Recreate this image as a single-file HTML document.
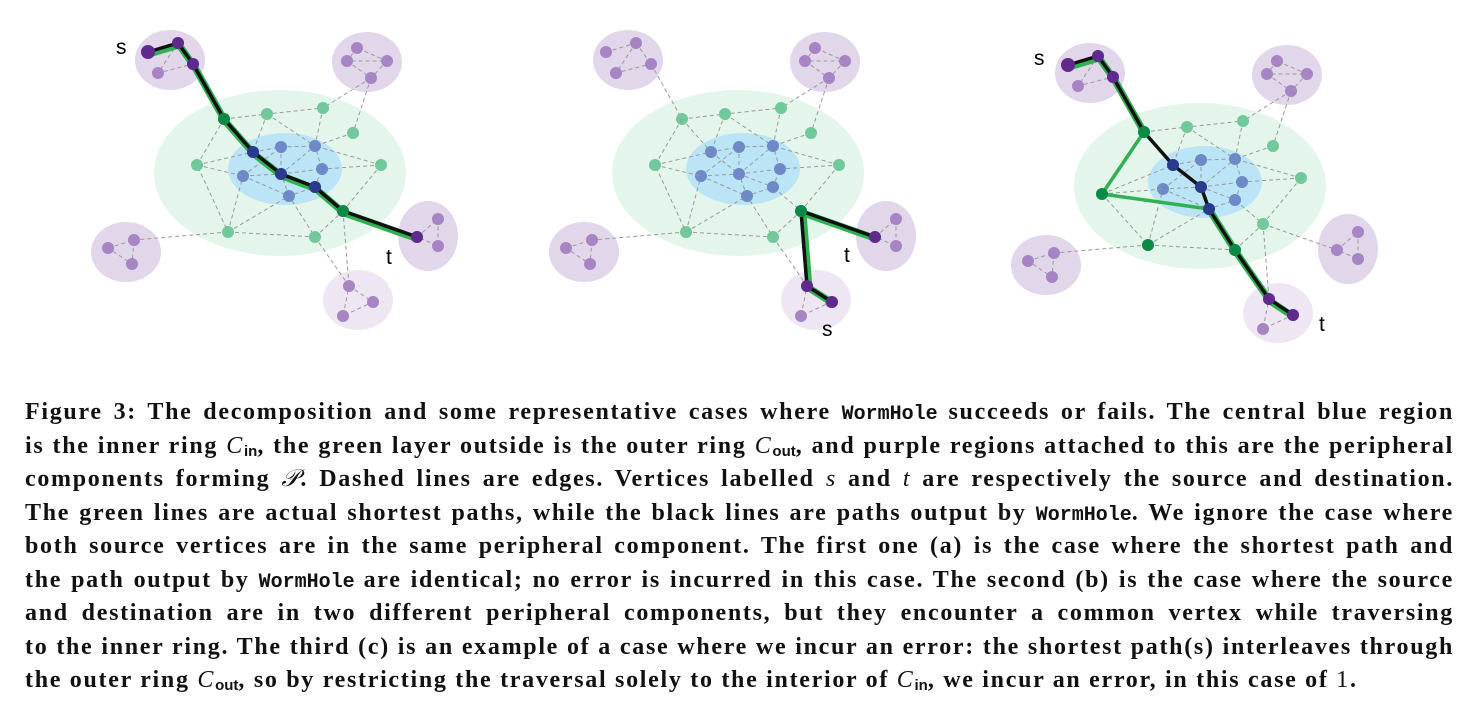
<!DOCTYPE html>
<html><head><meta charset="utf-8">
<style>
html,body{margin:0;padding:0;background:#fff;width:1474px;height:710px;overflow:hidden}
svg{position:absolute;left:0;top:0}
.cap{position:absolute;left:25px;top:396px;width:1429px;font-family:"Liberation Serif",serif;font-weight:bold;font-size:24px;letter-spacing:1.7px;color:#111}
.ln{height:33.5px;line-height:33.5px;text-align:justify;text-align-last:justify;white-space:nowrap}
.ln.last{text-align-last:left}
.m{font-family:"Liberation Mono",monospace;font-weight:bold;font-size:20px;letter-spacing:0}
i{font-weight:normal}
sub{font-family:"Liberation Sans",sans-serif;font-size:15px;vertical-align:-3px;line-height:0;letter-spacing:0}
</style></head><body>
<svg width="1474" height="390" viewBox="0 0 1474 390">
<defs>
<g id="base">
<ellipse cx="170" cy="60" rx="35" ry="30" fill="#e2d6ea"/>
<ellipse cx="367" cy="62" rx="35" ry="30" fill="#e2d6ea"/>
<ellipse cx="126" cy="252" rx="35" ry="30" fill="#e2d6ea"/>
<ellipse cx="428" cy="236" rx="30" ry="35" fill="#e2d6ea"/>
<ellipse cx="358" cy="300" rx="35" ry="30" fill="#eee7f3"/>
<ellipse cx="280" cy="173" rx="126" ry="83" fill="#e4f5eb"/>
<ellipse cx="285" cy="169" rx="57" ry="36" fill="#bce4f7"/>
<g stroke="#999" stroke-width="1" stroke-dasharray="4,3" fill="none">
<path d="M178,43L158,73L193,64M178,43L193,64M148,52L178,43M193,64L224,119"/>
<path d="M357,48L347,61L387,61L357,48M347,61L371,78L387,61M371,78L323,108M371,78L353,133"/>
<path d="M224,119L267,114L323,108M224,119L253,152M267,114L253,152M267,114L315,146M323,108L315,146M353,133L315,146M381,165L322,169M381,165L315,146M381,165L343,211M228,232L243,176M228,232L289,196M228,232L315,237L289,196M315,237L343,211L315,187M343,211L417,237M228,232L134,240M315,237L349,286M343,211L349,286"/>
<path d="M253,152L281,147L315,146M281,147L281,174M253,152L281,174L315,187M243,176L281,174M243,176L281,147M243,176L289,196L315,187L322,169L315,146M281,174L315,146M281,174L322,169M289,196L281,174"/>
<path d="M108,248L134,240L132,264L108,248M417,237L438,219L438,246L417,237M349,286L373,302L343,316L349,286"/>
</g>
<g fill="#a784c4">
<circle cx="148" cy="52" r="6"/><circle cx="178" cy="43" r="6"/><circle cx="193" cy="64" r="6"/><circle cx="158" cy="73" r="6"/>
<circle cx="357" cy="48" r="6"/><circle cx="347" cy="61" r="6"/><circle cx="387" cy="61" r="6"/><circle cx="371" cy="78" r="6"/>
<circle cx="108" cy="248" r="6"/><circle cx="134" cy="240" r="6"/><circle cx="132" cy="264" r="6"/>
<circle cx="417" cy="237" r="6"/><circle cx="438" cy="219" r="6"/><circle cx="438" cy="246" r="6"/>
<circle cx="349" cy="286" r="6"/><circle cx="373" cy="302" r="6"/><circle cx="343" cy="316" r="6"/>
</g>
<g fill="#70c89c">
<circle cx="224" cy="119" r="6"/><circle cx="267" cy="114" r="6"/><circle cx="323" cy="108" r="6"/><circle cx="353" cy="133" r="6"/>
<circle cx="381" cy="165" r="6"/><circle cx="228" cy="232" r="6"/><circle cx="315" cy="237" r="6"/><circle cx="343" cy="211" r="6"/>
</g>
<g fill="#6e88c8">
<circle cx="253" cy="152" r="6"/><circle cx="281" cy="147" r="6"/><circle cx="315" cy="146" r="6"/><circle cx="322" cy="169" r="6"/>
<circle cx="243" cy="176" r="6"/><circle cx="281" cy="174" r="6"/><circle cx="289" cy="196" r="6"/><circle cx="315" cy="187" r="6"/>
</g>
</g>
<g id="leftg" stroke="#999" stroke-width="1" stroke-dasharray="4,3" fill="none">
<path d="M224,119L197,165L228,232M197,165L253,152M197,165L243,176"/>
</g>
</defs>

<!-- Panel A -->
<use href="#base"/>
<use href="#leftg"/>
<circle cx="197" cy="165" r="6" fill="#70c89c"/>
<path d="M148,52L178,43L193,64L224,119L253,152L281,174L315,187L343,211L417,237" fill="none" stroke="#2fb150" stroke-width="7" stroke-linejoin="round" transform="translate(1,2)"/>
<path d="M148,52L178,43L193,64L224,119L253,152L281,174L315,187L343,211L417,237" fill="none" stroke="#111" stroke-width="3.5" stroke-linejoin="round"/>
<g fill="#5e2a8e"><circle cx="148" cy="52" r="7"/><circle cx="178" cy="43" r="6"/><circle cx="193" cy="64" r="6"/><circle cx="417" cy="237" r="6"/></g>
<g fill="#0b8a45"><circle cx="224" cy="119" r="6"/><circle cx="343" cy="211" r="6"/></g>
<g fill="#2a3a8c"><circle cx="253" cy="152" r="6"/><circle cx="281" cy="174" r="6"/><circle cx="315" cy="187" r="6"/></g>
<text x="116" y="54" font-family="Liberation Sans,sans-serif" font-size="21">s</text>
<text x="386" y="264" font-family="Liberation Sans,sans-serif" font-size="21">t</text>

<!-- Panel B -->
<g transform="translate(458,0)">
<use href="#base"/>
<use href="#leftg"/>
<circle cx="197" cy="165" r="6" fill="#70c89c"/>
<path d="M417,237L343,211L349,286L374,302" fill="none" stroke="#2fb150" stroke-width="7" stroke-linejoin="round" transform="translate(2,2)"/>
<path d="M417,237L343,211L349,286L374,302" fill="none" stroke="#111" stroke-width="3.5" stroke-linejoin="round"/>
<g fill="#5e2a8e"><circle cx="417" cy="237" r="6"/><circle cx="349" cy="286" r="6"/><circle cx="374" cy="302" r="6"/></g>
<circle cx="343" cy="211" r="6" fill="#0b8a45"/>
<text x="386" y="262" font-family="Liberation Sans,sans-serif" font-size="21">t</text>
<text x="364" y="336" font-family="Liberation Sans,sans-serif" font-size="21">s</text>
</g>

<!-- Panel C -->
<g transform="translate(920,13)">
<use href="#base"/>
<path d="M182,181L253,152M182,181L243,176M182,181L228,232" fill="none" stroke="#999" stroke-width="1" stroke-dasharray="4,3"/>
<path d="M224,119L182,181L289,196" fill="none" stroke="#2fb150" stroke-width="3.5" stroke-linejoin="round"/>
<path d="M148,52L178,43L193,64L224,119M289,196L315,237L349,286L373,302" fill="none" stroke="#2fb150" stroke-width="7" stroke-linejoin="round" transform="translate(1,2)"/>
<path d="M148,52L178,43L193,64L224,119L253,152L281,174L289,196L315,237L349,286L373,302" fill="none" stroke="#111" stroke-width="3.5" stroke-linejoin="round"/>
<g fill="#5e2a8e"><circle cx="148" cy="52" r="7"/><circle cx="178" cy="43" r="6"/><circle cx="193" cy="64" r="6"/><circle cx="349" cy="286" r="6"/><circle cx="373" cy="302" r="6"/></g>
<g fill="#0b8a45"><circle cx="224" cy="119" r="6"/><circle cx="182" cy="181" r="6"/><circle cx="228" cy="232" r="6"/><circle cx="315" cy="237" r="6"/></g>
<g fill="#2a3a8c"><circle cx="253" cy="152" r="6"/><circle cx="281" cy="174" r="6"/><circle cx="289" cy="196" r="6"/></g>
<text x="114" y="52" font-family="Liberation Sans,sans-serif" font-size="21">s</text>
<text x="399" y="318" font-family="Liberation Sans,sans-serif" font-size="21">t</text>
</g>
</svg>

<div class="cap">
<div class="ln">Figure 3: The decomposition and some representative cases where <span class="m">WormHole</span> succeeds or fails. The central blue region</div>
<div class="ln">is the inner ring <i>C</i><sub>in</sub>, the green layer outside is the outer ring <i>C</i><sub>out</sub>, and purple regions attached to this are the peripheral</div>
<div class="ln">components forming <i>𝒫</i>. Dashed lines are edges. Vertices labelled <i>s</i> and <i>t</i> are respectively the source and destination.</div>
<div class="ln">The green lines are actual shortest paths, while the black lines are paths output by <span class="m">WormHole</span>. We ignore the case where</div>
<div class="ln">both source vertices are in the same peripheral component. The first one (a) is the case where the shortest path and</div>
<div class="ln">the path output by <span class="m">WormHole</span> are identical; no error is incurred in this case. The second (b) is the case where the source</div>
<div class="ln">and destination are in two different peripheral components, but they encounter a common vertex while traversing</div>
<div class="ln">to the inner ring. The third (c) is an example of a case where we incur an error: the shortest path(s) interleaves through</div>
<div class="ln last">the outer ring <i>C</i><sub>out</sub>, so by restricting the traversal solely to the interior of <i>C</i><sub>in</sub>, we incur an error, in this case of <span style="font-weight:normal">1</span>.</div>
</div>
</body></html>
